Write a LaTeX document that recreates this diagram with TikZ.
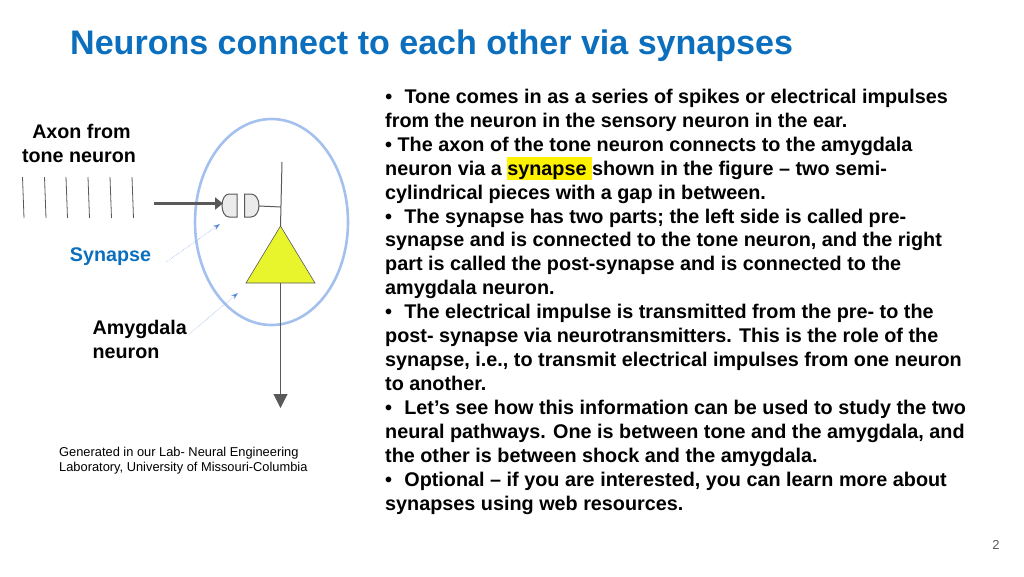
\documentclass[tikz,border=0pt]{standalone}
\usepackage{fontspec}
\setmainfont{Liberation Sans}
\usetikzlibrary{arrows.meta,shapes.geometric}
\definecolor{titleblue}{HTML}{0B6FBE}
\definecolor{ringblue}{HTML}{A3C0EE}
\definecolor{darkline}{HTML}{595959}
\definecolor{dotblue}{HTML}{3F74D6}
\definecolor{synfill}{HTML}{EBEBEB}
\tikzset{
	bodytext/.style={anchor=north west,inner sep=0pt,align=left,font=\fontsize{19.8}{23.94}\selectfont\bfseries},
	sidelabel/.style={inner sep=0pt,align=left,font=\fontsize{19.7}{23.94}\selectfont\bfseries},
	synpart/.style={draw=darkline,fill=synfill,line width=1pt},
	thinline/.style={draw=darkline,line width=1pt},
	pointer/.style={densely dotted,draw=dotblue!70,line width=0.5pt,-{Stealth[length=7pt,width=5pt,fill=dotblue]}},
}
\begin{document}
\begin{tikzpicture}[x=1pt,y=-1pt]
	\useasboundingbox (0,0) rectangle (1024,576);
	
	%title
	\node[anchor=west,inner sep=0pt,text=titleblue,font=\fontsize{34.05}{40}\selectfont\bfseries] (title) at (70,45.5) {Neurons connect to each other via synapses};
	
	%highlight behind the word
	\fill[yellow] (507,157) rectangle (592,180);
	
	%right text
	\node[bodytext] (body) at (385,88.8) {\hspace{0.2pt}•\hspace{0.62em}Tone comes in as a series of spikes or electrical impulses\\
		from the neuron in the sensory neuron in the ear.\\
		• The axon of the tone neuron connects to the amygdala\\
		neuron via a synapse shown in the figure – two semi-\\
		cylindrical pieces with a gap in between.\\
		•\hspace{0.62em}The synapse has two parts; the left side is called pre-\\
		synapse and is connected to the tone neuron, and the right\\
		part is called the post-synapse and is connected to the\\
		amygdala neuron.\\
		•\hspace{0.62em}The electrical impulse is transmitted from the pre- to the\\
		post- synapse via neurotransmitters. This is the role of the\\
		synapse, i.e., to transmit electrical impulses from one neuron\\
		to another.\\
		•\hspace{0.62em}Let’s see how this information can be used to study the two\\
		neural pathways. One is between tone and the amygdala, and\\
		the other is between shock and the amygdala.\\
		•\hspace{0.62em}Optional – if you are interested, you can learn more about\\
		synapses using web resources.};
	
	%ring
	\node[draw=ringblue,line width=2.6pt,ellipse,minimum width=153pt,minimum height=206pt,inner sep=0pt] (ring) at (271.5,222) {};
	
	%axon ticks
	\foreach \x in {22.5,44.5,66,88,110,132} {
		\draw[thinline,line width=0.8pt] (\x,177) -- (\x+1.5,218);
	}
	
	%synapse parts
	\draw[synpart] (237,194) -- (229,194) .. controls (225,194) and (222,199) .. (222,205.5) .. controls (222,212) and (225,217) .. (229,217) -- (237,217) -- cycle;
	\draw[synpart] (244.5,194) -- (251,194) .. controls (255.5,194) and (259,199) .. (259,205.5) .. controls (259,212) and (255.5,217) .. (251,217) -- (244.5,217) -- cycle;
	\coordinate (preleft) at (223,203.5);
	\coordinate (axonstart) at (154,203.5);
	\coordinate (postright) at (259,206);
	\coordinate (stemtop) at (282,162);
	\coordinate (stemjoin) at (281,207);
	
	%neuron
	\node[coordinate] (apex) at (280.5,226) {};
	\node[coordinate] (baseleft) at (246,283) {};
	\node[coordinate] (baseright) at (315,283) {};
	\node[coordinate] (basemid) at (280.5,283) {};
	\node[coordinate] (outend) at (280.5,408) {};
	\draw[fill={rgb,255:red,232;green,245;blue,45},draw=darkline,line width=0.6pt] (apex) -- (baseleft) -- (baseright) -- cycle;
	\draw[thinline] (stemtop) -- (apex);
	\draw[thinline] (postright) -- (stemjoin);
	\draw[thinline,-{Triangle[length=14pt,width=14pt]},darkline] (basemid) -- (outend);
	\draw[draw=darkline,line width=2.6pt,-{Triangle[length=8pt,width=12pt]},darkline] (axonstart) -- (preleft);
	
	%outer labels
	\node[sidelabel,align=center] (axonlabel) at (79,143) {\hspace{5pt}Axon from\\tone neuron};
	\node[sidelabel,text=titleblue] (synlabel) at (110.5,257) {Synapse};
	\node[sidelabel,anchor=west] (amylabel) at (92.5,339) {Amygdala\\neuron};
	\node[anchor=north west,inner sep=0pt,align=left,font=\fontsize{12.85}{15.6}\selectfont] (credit) at (59,446.8) {Generated in our Lab- Neural Engineering\\Laboratory, University of Missouri-Columbia};
	\node[text=darkline,inner sep=0pt,font=\fontsize{13}{15}\selectfont] (pagenum) at (996,544.5) {2};
	
	%pointers
	\coordinate (syntip) at (220,224);
	\coordinate (amytip) at (238,293);
	\draw[pointer] (synlabel.east)+(15,5) -- (syntip);
	\draw[pointer] (amylabel.east)+(2,-5) -- (amytip);
\end{tikzpicture}
\end{document}
